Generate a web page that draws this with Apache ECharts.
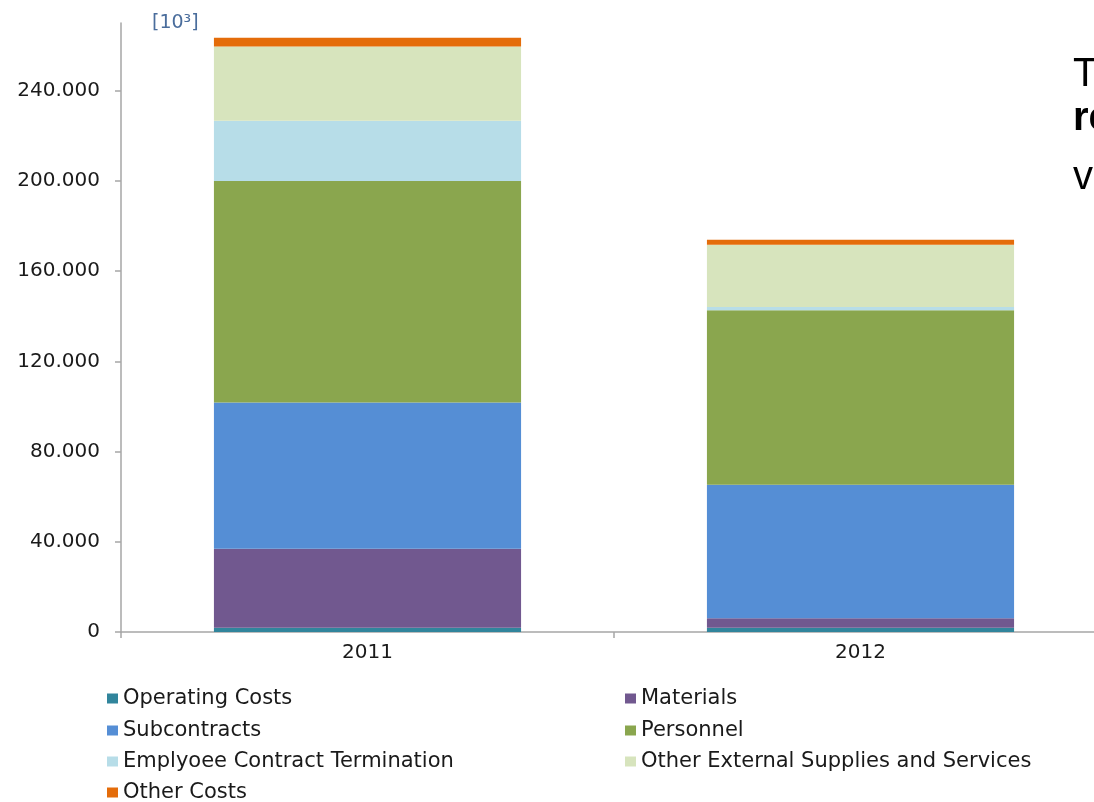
<!DOCTYPE html>
<html>
<head>
<meta charset="utf-8">
<script src="https://cdn.jsdelivr.net/npm/echarts@6/dist/echarts.min.js"></script>
<style>
  html, body { margin: 0; padding: 0; background: #ffffff; }
  #chart { width: 1094px; height: 802px; }
</style>
</head>
<body>
<div id="chart"></div>
<script>
// ---- Data (values in units; axis labelled in [10^3]) ----
const categories = ['2011', '2012'];
const operatingCosts = [1900, 1900];
const materials = [35000, 4200];
const subcontracts = [64900, 59200];
const personnel = [98200, 77400];
const employeeTermination = [26700, 1400];
const otherExternal = [32900, 27600];
const otherCosts = [3900, 2200];
const yTickValues = [0, 40000, 80000, 120000, 160000, 200000, 240000];
const seriesNames = [
  'Operating Costs', 'Materials', 'Subcontracts', 'Personnel',
  'Emplyoee Contract Termination', 'Other External Supplies and Services', 'Other Costs'
];
const seriesValues = [operatingCosts, materials, subcontracts, personnel, employeeTermination, otherExternal, otherCosts];
const seriesColors = ['#31859c', '#71588f', '#558ed5', '#8aa64e', '#b7dde8', '#d7e4bd', '#e46c0a'];
// legend layout: [name, column, row]
const legendLayout = [
  ['Operating Costs', 0, 0], ['Materials', 1, 0],
  ['Subcontracts', 0, 1], ['Personnel', 1, 1],
  ['Emplyoee Contract Termination', 0, 2], ['Other External Supplies and Services', 1, 2],
  ['Other Costs', 0, 3]
];
const legendColumnX = [107, 625];
const legendRowCenterY = [698, 730, 761, 792];

function fmt(v) {
  return String(Math.round(v)).replace(/\B(?=(\d{3})+(?!\d))/g, '.');
}

const chart = echarts.init(document.getElementById('chart'), null, { renderer: 'canvas' });

const legendText = { fontFamily: 'DejaVu Sans', fontSize: 21, color: '#1a1a1a', lineHeight: 20 };

chart.setOption({
  backgroundColor: '#ffffff',
  animation: false,
  grid: { left: 121, top: 23, width: 986, height: 609, outerBoundsMode: 'none', containLabel: false },
  legend: legendLayout.map(([name, col, row]) => ({
    data: [name], orient: 'horizontal', padding: 0,
    left: legendColumnX[col], top: legendRowCenterY[row] - 10,
    icon: 'rect', itemWidth: 11, itemHeight: 10, itemTextGap: 9,
    textStyle: legendText, selectedMode: false
  })),
  xAxis: {
    type: 'category',
    data: categories,
    boundaryGap: true,
    axisLine: { show: true, lineStyle: { color: '#a6a6a6', width: 1.5 } },
    axisTick: { show: true, alignWithLabel: false, length: 6, lineStyle: { color: '#a6a6a6', width: 1.5 } },
    axisLabel: { fontFamily: 'DejaVu Sans', fontSize: 20, color: '#1a1a1a', margin: 11 },
    splitLine: { show: false }
  },
  yAxis: {
    type: 'value',
    min: 0,
    max: 270000,
    axisLine: { show: true, lineStyle: { color: '#a6a6a6', width: 1.5 } },
    axisTick: { show: true, length: 6, customValues: yTickValues, lineStyle: { color: '#a6a6a6', width: 1.5 } },
    axisLabel: {
      customValues: yTickValues,
      fontFamily: 'DejaVu Sans', fontSize: 20, color: '#1a1a1a', margin: 21,
      formatter: fmt
    },
    splitLine: { show: false }
  },
  series: seriesNames.map((name, i) => ({
    name: name,
    type: 'bar',
    stack: 'total',
    barWidth: '62.3%',
    data: seriesValues[i],
    itemStyle: { color: seriesColors[i] },
    emphasis: { disabled: true }
  })),
  graphic: [
    {
      type: 'text', left: 152, top: 14,
      style: { text: '[10³]', fontFamily: 'DejaVu Sans', fontSize: 19, fill: '#4a6d9c' }
    },
    {
      type: 'text', x: 1073, y: 95,
      style: { text: 'T', fontFamily: 'Liberation Sans', fontSize: 40, fill: '#000', verticalAlign: 'bottom' }
    },
    {
      type: 'text', x: 1073, y: 139,
      style: { text: 're', fontFamily: 'Liberation Sans', fontWeight: 'bold', fontSize: 40, fill: '#000', verticalAlign: 'bottom' }
    },
    {
      type: 'text', x: 1073, y: 198,
      style: { text: 'v', fontFamily: 'Liberation Sans', fontSize: 40, fill: '#000', verticalAlign: 'bottom' }
    }
  ]
});
</script>
</body>
</html>
